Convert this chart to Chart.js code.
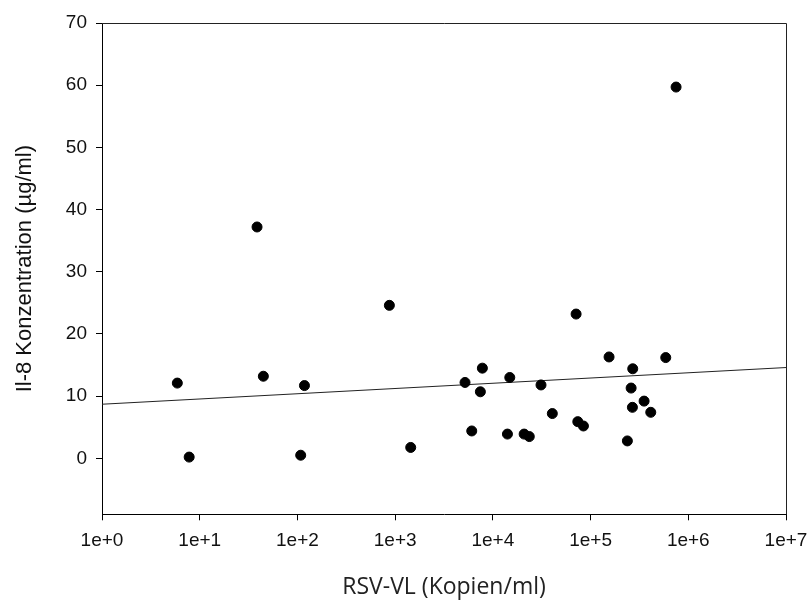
<!DOCTYPE html>
<html>
<head>
<meta charset="utf-8">
<script src="https://cdn.jsdelivr.net/npm/chart.js@4/dist/chart.umd.min.js"></script>
<style>
  html, body { margin: 0; padding: 0; background: #fff; }
  #wrap { width: 811px; height: 604px; position: relative; }
</style>
</head>
<body>
<div id="wrap"><canvas id="c" width="811" height="604"></canvas></div>
<script>
// Data
const viralLoad = [5.9, 7.8, 38.6, 44.8, 108, 118, 873, 1443, 5190, 6080, 7450, 7810,
  14100, 14900, 20900, 23600, 31100, 40600, 71100, 74000, 84500, 154600,
  238000, 260000, 268000, 270000, 353000, 413000, 588000, 750000];
const il8Conc = [12.1, 0.2, 37.2, 13.2, 0.5, 11.7, 24.6, 1.75, 12.2, 4.4, 10.7, 14.5,
  3.9, 13.0, 3.9, 3.5, 11.8, 7.2, 23.2, 5.9, 5.2, 16.3,
  2.8, 11.3, 8.2, 14.4, 9.2, 7.4, 16.2, 59.7];
// Regression line end points (x = 1e0 and 1e7)
const fitX = [1, 1e7];
const fitY = [8.7, 14.6];
const xTickValues = [1, 10, 100, 1000, 10000, 100000, 1000000, 10000000];
const xTickLabels = ['1e+0', '1e+1', '1e+2', '1e+3', '1e+4', '1e+5', '1e+6', '1e+7'];
const yTickValues = [0, 10, 20, 30, 40, 50, 60, 70];
const xTitle = 'RSV-VL (Kopien/ml)';
const yTitle = 'Il-8 Konzentration (µg/ml)';

const points = viralLoad.map((v, i) => ({ x: v, y: il8Conc[i] }));
const fitLine = fitX.map((v, i) => ({ x: v, y: fitY[i] }));

const framePlugin = {
  id: 'frame',
  afterDraw(chart) {
    const { ctx, chartArea: a } = chart;
    ctx.save();
    ctx.strokeStyle = '#222';
    ctx.lineWidth = 1;
    ctx.beginPath();
    ctx.moveTo(a.left, a.top + 0.5);
    ctx.lineTo(a.right + 0.5, a.top + 0.5);
    ctx.lineTo(a.right + 0.5, a.bottom);
    ctx.stroke();
    ctx.restore();
  }
};

const tickFont = { family: '"Liberation Sans", Arial, sans-serif', size: 19 };

new Chart(document.getElementById('c'), {
  type: 'scatter',
  data: {
    datasets: [
      {
        label: 'fit',
        data: fitLine,
        showLine: true,
        borderColor: '#222',
        borderWidth: 1,
        pointRadius: 0,
        fill: false,
        order: 2
      },
      {
        label: 'data',
        data: points,
        backgroundColor: '#000',
        borderColor: '#000',
        pointRadius: 5,
        pointHoverRadius: 5,
        order: 1
      }
    ]
  },
  options: {
    responsive: false,
    animation: false,
    devicePixelRatio: 1,
    layout: { padding: { left: 0, right: 25, top: 23, bottom: 0 } },
    plugins: { legend: { display: false }, tooltip: { enabled: false } },
    scales: {
      x: {
        type: 'logarithmic',
        min: 1,
        max: 1e7,
        afterBuildTicks(scale) {
          scale.ticks = xTickValues.map(v => ({ value: v }));
        },
        afterFit(scale) {
          scale.height = 89.7;
          scale.paddingRight = 0;
          scale.paddingLeft = 0;
        },
        ticks: {
          autoSkip: false,
          maxRotation: 0,
          color: '#111',
          font: tickFont,
          padding: 9,
          callback(value) {
            const i = xTickValues.indexOf(value);
            return i >= 0 ? xTickLabels[i] : '';
          }
        },
        grid: { display: true, drawOnChartArea: false, drawTicks: true, tickLength: 6, color: '#000' },
        border: { display: true, color: '#000', width: 1 },
        title: {
          display: true,
          text: xTitle,
          color: '#222',
          font: { family: '"Open Sans", sans-serif', size: 23 },
          padding: { top: 0, bottom: 3 }
        }
      },
      y: {
        type: 'linear',
        min: -9,
        max: 70,
        afterBuildTicks(scale) {
          scale.ticks = yTickValues.map(v => ({ value: v }));
        },
        afterFit(scale) { scale.width = 102; },
        ticks: {
          color: '#111',
          font: tickFont,
          padding: 9
        },
        grid: { display: true, drawOnChartArea: false, drawTicks: true, tickLength: 6, color: '#000' },
        border: { display: true, color: '#000', width: 1 },
        title: {
          display: true,
          text: yTitle,
          color: '#111',
          font: { family: '"Liberation Sans", Arial, sans-serif', size: 22 },
          padding: { top: 12, bottom: 0 }
        }
      }
    }
  },
  plugins: [framePlugin]
});
</script>
</body>
</html>
